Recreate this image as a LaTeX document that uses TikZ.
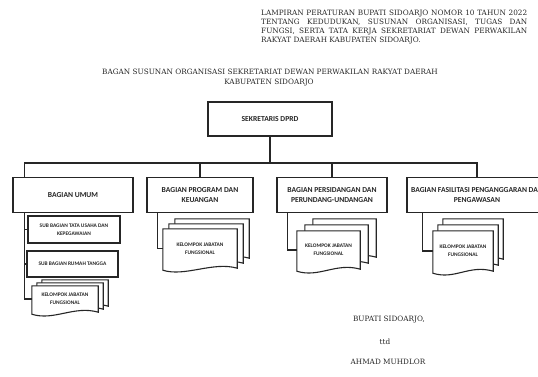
\documentclass[tikz,border=0pt]{standalone}
\usepackage{fontspec}
\setmainfont{DejaVu Serif}
\newfontfamily\kotak{Carlito}
\usepackage{tikz}
\usetikzlibrary{positioning, backgrounds}
\definecolor{ink}{HTML}{262626}
\tikzset{
  garis/.style    = {line width=1.3pt, draw=ink},
  jabatan/.style  = {rectangle, draw=ink, line width=1.3pt, fill=white,
                     align=center, text=ink, inner sep=2pt,
                     font=\kotak\bfseries\fontsize{7.6}{10}\selectfont},
  bagian/.style   = {jabatan, minimum height=35pt, anchor=north},
  subbag/.style   = {jabatan, minimum height=26pt,
                     font=\kotak\bfseries\fontsize{5.4}{8}\selectfont},
  kelompok/.style = {rectangle, align=center, inner sep=0pt, text=ink,
                     font=\kotak\bfseries\fontsize{5.4}{8}\selectfont},
  halaman/.style  = {draw=ink, line width=1.1pt, fill=white},
  teks/.style     = {inner sep=0pt, text=ink, font=\fontsize{7.3}{9}\selectfont},
}
% tumpukan lembar di belakang node kelompok
\newcommand{\lembar}[3]{%
  \begin{scope}[on background layer]
    \foreach \d in {2,1,0}{
      \draw[halaman] ([xshift=\d*#2, yshift=\d*#3]#1.north west)
        -- ([xshift=\d*#2, yshift=\d*#3]#1.north east)
        -- ([xshift=\d*#2, yshift=\d*#3]#1.south east)
        .. controls +(-24,-7) and +(22,7) .. ([xshift=\d*#2, yshift=\d*#3-2pt]#1.south west)
        -- cycle;
    }
  \end{scope}}

\begin{document}
\begin{tikzpicture}[x=1pt, y=-1pt]
  \useasboundingbox (0,0) rectangle (538,377);

  % kepala
  \node[teks, anchor=north west, text width=266pt, align=justify] (lampiran) at (261,10)
    {LAMPIRAN PERATURAN BUPATI SIDOARJO NOMOR 10 TAHUN 2022\linebreak
     TENTANG KEDUDUKAN, SUSUNAN ORGANISASI, TUGAS DAN\linebreak
     FUNGSI, SERTA TATA KERJA SEKRETARIAT DEWAN PERWAKILAN\linebreak
     RAKYAT DAERAH KABUPATEN SIDOARJO.};
  \node[teks] (judul) at (270,72) {BAGAN SUSUNAN ORGANISASI SEKRETARIAT DEWAN PERWAKILAN RAKYAT DAERAH};
  \node[teks] (judul2) at (269,83) {KABUPATEN SIDOARJO};

  % pimpinan
  \node[jabatan, minimum width=124pt, minimum height=34pt] (sekretaris) at (270,119) {SEKRETARIS DPRD};
  \coordinate (cabang) at (270,163);

  % bagian
  \node[bagian, minimum width=120pt] (umum) at (73,177) {BAGIAN UMUM};
  \node[bagian, minimum width=106pt] (program) at (200,177) {BAGIAN PROGRAM DAN\\KEUANGAN};
  \node[bagian, minimum width=110pt] (sidang) at (332,177) {BAGIAN PERSIDANGAN DAN\\PERUNDANG-UNDANGAN};
  \node[bagian, minimum width=140pt] (fasilitas) at (477,177) {BAGIAN FASILITASI PENGANGGARAN DAN\\PENGAWASAN};

  % sub bagian umum
  \node[subbag, minimum width=92pt, minimum height=27pt] (subtu) at (74,229.5) {SUB BAGIAN TATA USAHA DAN\\KEPEGAWAIAN};
  \node[subbag, minimum width=91pt] (subrt) at (72.5,264) {SUB BAGIAN RUMAH TANGGA};

  % kelompok jabatan fungsional
  \node[kelompok, minimum width=66pt, minimum height=26pt] (kj0) at (65,299) {KELOMPOK JABATAN\\FUNGSIONAL};
  \lembar{kj0}{5pt}{3pt}
  \node[kelompok, minimum width=74pt, minimum height=39pt] (kj1) at (200,248.5) {KELOMPOK JABATAN\\FUNGSIONAL};
  \lembar{kj1}{6pt}{5pt}
  \node[kelompok, minimum width=63pt, minimum height=38pt] (kj2) at (328.5,250) {KELOMPOK JABATAN\\FUNGSIONAL};
  \lembar{kj2}{8pt}{6pt}
  \node[kelompok, minimum width=60pt, minimum height=40pt] (kj3) at (463,251) {KELOMPOK JABATAN\\FUNGSIONAL};
  \lembar{kj3}{5pt}{6pt}

  % garis
  \draw[garis] (sekretaris.south) -- (cabang);
  \draw[garis] (cabang) -| ([xshift=12pt]umum.north west);
  \draw[garis] (cabang) -| (program.north);
  \draw[garis] (cabang) -| (sidang.north);
  \draw[garis] (cabang) -| (fasilitas.north);
  \draw[garis] ([xshift=12pt]umum.south west) |- (subtu.west);
  \draw[garis] ([xshift=12pt]umum.south west) |- (subrt.west);
  \draw[garis] ([xshift=12pt]umum.south west) |- (kj0.west);
  \draw[garis] ([xshift=11pt]program.south west) |- (kj1.west);
  \draw[garis] ([xshift=11pt]sidang.south west) |- (kj2.west);
  \draw[garis] ([xshift=16pt]fasilitas.south west) |- (kj3.west);

  % tanda tangan
  \node[teks] (bupati) at (389,320) {BUPATI SIDOARJO,};
  \node[teks] (ttd) at (385,342) {ttd};
  \node[teks] (nama) at (388,362) {AHMAD MUHDLOR};
\end{tikzpicture}
\end{document}
